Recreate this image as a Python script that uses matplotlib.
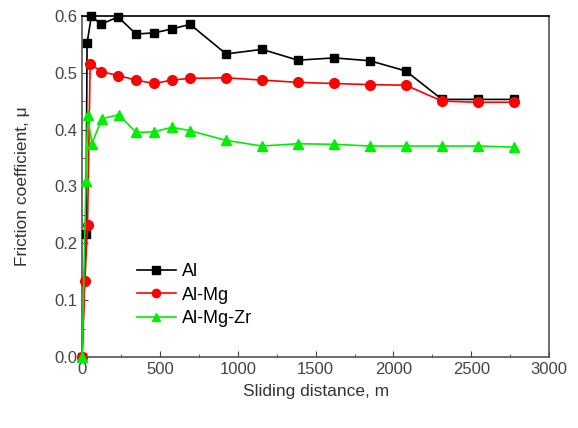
import matplotlib
matplotlib.use("Agg")
import matplotlib.pyplot as plt
from matplotlib.ticker import MultipleLocator

plt.rcParams['font.family'] = ['Liberation Sans', 'DejaVu Sans']

# Sliding distance (m) and friction coefficient for each alloy
al_x = [0, 25, 32, 60, 120, 231, 347, 462, 578, 694, 925, 1156, 1387, 1618, 1849, 2080, 2312, 2543, 2774]
al_y = [0.0, 0.217, 0.552, 0.600, 0.585, 0.598, 0.568, 0.570, 0.577, 0.585, 0.533, 0.541, 0.522,
        0.526, 0.521, 0.503, 0.453, 0.453, 0.453]

almg_x = [0, 18, 35, 52, 120, 231, 347, 462, 578, 694, 925, 1156, 1387, 1618, 1849, 2080, 2312, 2543, 2774]
almg_y = [0.0, 0.133, 0.232, 0.516, 0.502, 0.495, 0.487, 0.481, 0.487, 0.490, 0.491, 0.487, 0.483,
          0.481, 0.479, 0.478, 0.450, 0.448, 0.448]

almgzr_x = [0, 25, 35, 63, 127, 236, 347, 462, 578, 694, 925, 1156, 1387, 1618, 1849, 2080, 2312, 2543, 2774]
almgzr_y = [0.0, 0.309, 0.425, 0.375, 0.419, 0.426, 0.395, 0.396, 0.404, 0.398, 0.381, 0.371, 0.375,
            0.374, 0.371, 0.371, 0.371, 0.371, 0.369]

fig = plt.figure(figsize=(5.78, 4.28), dpi=100)
ax = fig.add_axes([0.142, 0.166, 0.808, 0.797])

ax.plot(al_x, al_y, color="black", marker="s", markersize=6, lw=1.2, label="Al", clip_on=False, zorder=3)
ax.plot(almg_x, almg_y, color="#ff0000", marker="o", markersize=7, lw=1.2, label="Al-Mg", clip_on=False, zorder=3)
ax.plot(almgzr_x, almgzr_y, color="#00ee00", marker="^", markersize=7, lw=1.2, label="Al-Mg-Zr", clip_on=False, zorder=3)

ax.set_xlim(0, 3000)
ax.set_ylim(0, 0.6)
ax.xaxis.set_major_locator(MultipleLocator(500))
ax.xaxis.set_minor_locator(MultipleLocator(250))
ax.yaxis.set_major_locator(MultipleLocator(0.1))
ax.yaxis.set_minor_locator(MultipleLocator(0.05))
ax.yaxis.set_major_formatter(matplotlib.ticker.FormatStrFormatter("%.1f"))
ax.tick_params(which="both", direction="in", colors="#444444", labelsize=12)
ax.tick_params(which="major", length=4)
ax.tick_params(which="minor", length=2)
for s in ax.spines.values():
    s.set_color("#555555")
    s.set_linewidth(1.2)
ax.spines["top"].set_color("black")

ax.set_xlabel("Sliding distance, m", fontsize=12.5, color="#333333", labelpad=5)
ax.set_ylabel("Friction coefficient, μ", fontsize=12.5, color="#333333", labelpad=17)

ax.legend(loc="center left", bbox_to_anchor=(0.082, 0.181), frameon=False, fontsize=13,
          handlelength=2.2, labelspacing=0.35, handletextpad=0.3, markerscale=0.85)

plt.savefig("out.png", dpi=100)
